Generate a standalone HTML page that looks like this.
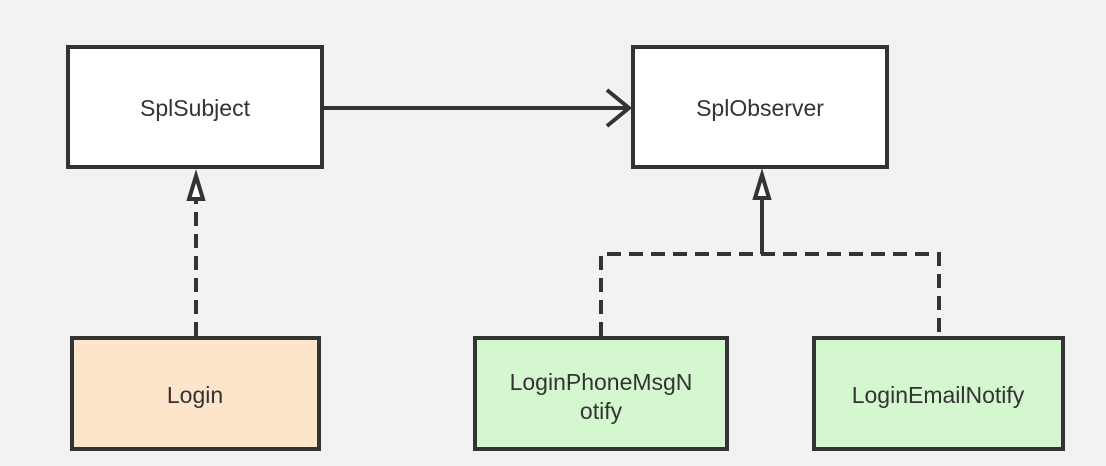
<!DOCTYPE html>
<html><head><style>
body{margin:0;background:#f2f2f2;}
svg{display:block;font-family:"Liberation Sans",sans-serif;}
</style></head><body>
<svg width="1106" height="466" viewBox="0 0 1106 466">
<rect width="1106" height="466" fill="#f2f2f2"/>
<g stroke="#333" stroke-width="4">
<rect x="68" y="47" width="254" height="120" fill="#fff"/>
<rect x="633" y="47" width="254" height="120" fill="#fff"/>
<rect x="72" y="338" width="247" height="111" fill="#fde5cc"/>
<rect x="475" y="338" width="252" height="111" fill="#d5f7d0"/>
<rect x="814" y="338" width="249" height="111" fill="#d5f7d0"/>
<line x1="324" y1="108" x2="629" y2="108"/>
<polyline points="607,90 629,108 607,126" fill="none"/>
<line x1="196" y1="336" x2="196" y2="201" stroke-dasharray="14,8"/>
<polygon points="196,176 189,199 203,199" fill="#fff"/>
<line x1="762" y1="254" x2="762" y2="200"/>
<polygon points="762,175 755,198 769,198" fill="#fff"/>
<polyline points="601,336 601,254 939,254 939,336" fill="none" stroke-dasharray="14,8"/>
</g>
<g fill="#333" font-size="23" text-anchor="middle">
<text x="195" y="116">SplSubject</text>
<text x="760" y="116">SplObserver</text>
<text x="195" y="403">Login</text>
<text x="601" y="390">LoginPhoneMsgN</text>
<text x="601" y="419">otify</text>
<text x="938" y="403">LoginEmailNotify</text>
</g>
</svg>
</body></html>
